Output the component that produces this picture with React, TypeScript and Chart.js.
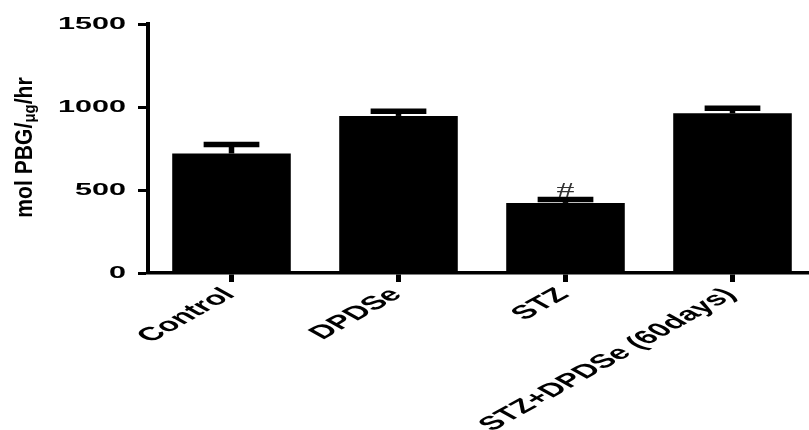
import React, { useEffect, useRef } from "react";
import { Chart, registerables } from "chart.js";

Chart.register(...registerables);

const categories = ["Control", "DPDSe", "STZ", "STZ+DPDSe (60days)"];
const means = [720, 946, 422, 962];
const sems = [54, 28, 21, 30];
const marks = ["", "", "#", ""];
const yTicks = [0, 500, 1000, 1500];
const yTitleMain = "mol PBG/";
const yTitleSub = "μg";
const yTitleEnd = "/hr";

const STRETCH = 1.8;
const FONT = "'Liberation Sans', Arial, sans-serif";

function drawStretched(
  ctx: CanvasRenderingContext2D,
  text: string,
  x: number,
  y: number,
  font: string,
  align: CanvasTextAlign,
  baseline: CanvasTextBaseline,
  angle: number
) {
  ctx.save();
  ctx.translate(x, y);
  ctx.scale(STRETCH, 1);
  ctx.rotate(angle);
  ctx.font = font;
  ctx.textAlign = align;
  ctx.textBaseline = baseline;
  ctx.fillText(text, 0, 0);
  ctx.restore();
}

const errorBarPlugin = {
  id: "errorBars",
  afterDatasetsDraw(chart: any) {
    const ctx: CanvasRenderingContext2D = chart.ctx;
    const yScale = chart.scales.y;
    const meta = chart.getDatasetMeta(0);
    ctx.save();
    ctx.strokeStyle = "#000";
    ctx.lineWidth = 5.5;
    ctx.lineCap = "butt";
    meta.data.forEach((bar: any, i: number) => {
      const top = yScale.getPixelForValue(means[i] + sems[i]);
      const capHalf = bar.width * 0.235;
      ctx.beginPath();
      ctx.moveTo(bar.x, bar.y);
      ctx.lineTo(bar.x, top);
      ctx.stroke();
      ctx.beginPath();
      ctx.moveTo(bar.x - capHalf, top);
      ctx.lineTo(bar.x + capHalf, top);
      ctx.stroke();
      if (marks[i]) {
        ctx.fillStyle = "#333";
        drawStretched(ctx, marks[i], bar.x, top - 2.5, "20px 'Liberation Serif', serif", "center", "alphabetic", 0);
      }
    });
    ctx.restore();
  },
};

const textPlugin = {
  id: "prismText",
  afterDraw(chart: any) {
    const ctx: CanvasRenderingContext2D = chart.ctx;
    const xScale = chart.scales.x;
    const yScale = chart.scales.y;
    const area = chart.chartArea;
    ctx.save();
    ctx.fillStyle = "#000";
    // y tick labels
    yTicks.forEach((v) => {
      const py = yScale.getPixelForValue(v);
      drawStretched(ctx, String(v), area.left - 22, py, `bold 17px ${FONT}`, "right", "middle", 0);
    });
    // x category labels
    categories.forEach((label, i) => {
      const px = xScale.getPixelForTick(i);
      drawStretched(ctx, label, px - 14, area.bottom + 12, `bold 19px ${FONT}`, "right", "top", -Math.PI / 4);
    });
    // y axis title (condensed, rotated)
    ctx.save();
    ctx.translate(32, 147.5);
    ctx.rotate(-Math.PI / 2);
    ctx.scale(0.88, 1);
    const mainFont = `bold 24px ${FONT}`;
    const subFont = `bold 17px ${FONT}`;
    ctx.font = mainFont;
    const w1 = ctx.measureText(yTitleMain).width;
    const w3 = ctx.measureText(yTitleEnd).width;
    ctx.font = subFont;
    const w2 = ctx.measureText(yTitleSub).width;
    const total = w1 + w2 + w3;
    let u = -total / 2;
    ctx.textAlign = "left";
    ctx.textBaseline = "alphabetic";
    ctx.font = mainFont;
    ctx.fillText(yTitleMain, u, 0);
    u += w1;
    ctx.font = subFont;
    ctx.fillText(yTitleSub, u, 3);
    u += w2;
    ctx.font = mainFont;
    ctx.fillText(yTitleEnd, u, 0);
    ctx.restore();
    ctx.restore();
  },
};

export default function App() {
  const ref = useRef<HTMLCanvasElement>(null);
  useEffect(() => {
    const chart = new Chart(ref.current as HTMLCanvasElement, {
      type: "bar",
      data: {
        labels: categories,
        datasets: [
          {
            data: means,
            backgroundColor: "#000",
            borderWidth: 0,
            barPercentage: 0.71,
            categoryPercentage: 1,
          },
        ],
      },
      options: {
        responsive: false,
        devicePixelRatio: 1,
        animation: false,
        layout: { padding: { left: 138, right: 14, top: 24, bottom: 148 } },
        plugins: { legend: { display: false }, tooltip: { enabled: false } },
        scales: {
          x: {
            type: "category",
            offset: true,
            grid: {
              display: true,
              drawOnChartArea: false,
              drawTicks: true,
              tickLength: 9,
              tickWidth: 5,
              tickColor: "#000",
              offset: false,
            },
            border: { display: true, color: "#000", width: 3.5 },
            ticks: { display: false },
          },
          y: {
            min: 0,
            max: 1500,
            afterBuildTicks: (scale: any) => {
              scale.ticks = yTicks.map((v) => ({ value: v }));
            },
            grid: {
              display: true,
              drawOnChartArea: false,
              drawTicks: true,
              tickLength: 10,
              tickWidth: 3,
              tickColor: "#000",
            },
            border: { display: true, color: "#000", width: 4 },
            ticks: { display: false },
          },
        },
      },
      plugins: [errorBarPlugin, textPlugin],
    });
    return () => chart.destroy();
  }, []);
  return (
    <div
      style={{
        position: "absolute",
        left: 0,
        top: 0,
        width: 809,
        height: 430,
        overflow: "hidden",
        background: "#fff",
      }}
    >
      <canvas ref={ref} width={830} height={430} style={{ display: "block", width: 830, height: 430 }} />
    </div>
  );
}
